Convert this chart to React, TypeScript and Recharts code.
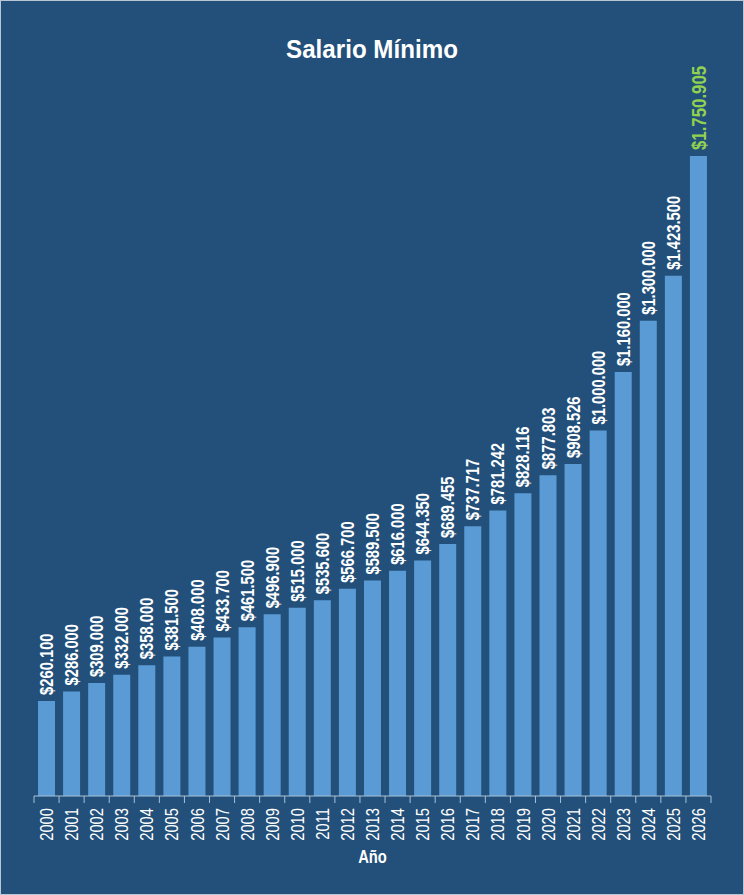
import React from 'react'
import { BarChart, Bar, XAxis, YAxis, LabelList } from 'recharts'

// Salario mínimo por año (COP)
const years = [
  '2000', '2001', '2002', '2003', '2004', '2005', '2006', '2007', '2008',
  '2009', '2010', '2011', '2012', '2013', '2014', '2015', '2016', '2017',
  '2018', '2019', '2020', '2021', '2022', '2023', '2024', '2025', '2026',
]
const salaries = [
  260100, 286000, 309000, 332000, 358000, 381500, 408000, 433700, 461500,
  496900, 515000, 535600, 566700, 589500, 616000, 644350, 689455, 737717,
  781242, 828116, 877803, 908526, 1000000, 1160000, 1300000, 1423500, 1750905,
]

const data = years.map((year, i) => ({ year, value: salaries[i] }))

const BG = '#22507a'
const BAR = '#5b9bd5'
const AXIS = '#a9c1d9'
const GREEN = '#92d050'
const FONT = '"Liberation Sans", Arial, sans-serif'
// no narrow font installed, so squeeze the text along its own direction
const NARROW = 0.82

const W = 742
const H = 893
const MARGIN = { top: 155, right: 32, bottom: 0, left: 33 }
const BAND = (W - MARGIN.left - MARGIN.right) / years.length

function money(v: number): string {
  return '$' + String(v).replace(/\B(?=(\d{3})+(?!\d))/g, '.')
}

function YearTick({ x, y, payload, index }: any) {
  const half = BAND / 2
  return (
    <g>
      <line x1={x - half} x2={x - half} y1={y - 7} y2={y} stroke={AXIS} />
      {index === years.length - 1 && (
        <line x1={x + half} x2={x + half} y1={y - 7} y2={y} stroke={AXIS} />
      )}
      <text
        transform={`translate(${x},${y + 5}) rotate(-90) scale(${NARROW},1)`}
        textAnchor="end"
        dominantBaseline="central"
        fill="#ffffff"
        fontFamily={FONT}
        fontSize={18}
      >
        {payload.value}
      </text>
    </g>
  )
}

function ValueLabel({ x, y, width, value, index }: any) {
  // the latest year is highlighted: green and a little larger
  const last = index === salaries.length - 1
  return (
    <text
      transform={`translate(${x + width / 2},${y - 6}) rotate(-90) scale(${NARROW},1)`}
      textAnchor="start"
      dominantBaseline="central"
      fill={last ? GREEN : '#ffffff'}
      fontFamily={FONT}
      fontWeight="bold"
      fontSize={last ? 20.5 : 18}
    >
      {money(value)}
    </text>
  )
}

function AxisTitle({ viewBox }: any) {
  return (
    <text
      transform={`translate(${viewBox.x + viewBox.width / 2},${viewBox.y + 67}) scale(${NARROW},1)`}
      textAnchor="middle"
      fill="#ffffff"
      fontFamily={FONT}
      fontWeight="bold"
      fontSize={18}
    >
      Año
    </text>
  )
}

export default function App() {
  return (
    <div
      style={{
        position: 'absolute', left: 0, top: 0, width: 744, height: 895,
        boxSizing: 'border-box', border: '1px solid #b9c7d4', background: BG,
      }}
    >
      <svg width={W} height={100} style={{ position: 'absolute', left: 0, top: 0 }}>
        <text
          transform="translate(371,57) scale(0.93,1)"
          textAnchor="middle"
          fill="#ffffff"
          fontFamily={FONT}
          fontWeight="bold"
          fontSize={26}
        >
          Salario Mínimo
        </text>
      </svg>
      <BarChart width={W} height={H} data={data} margin={MARGIN} barCategoryGap="16%">
        <XAxis
          dataKey="year"
          height={98}
          axisLine={{ stroke: AXIS }}
          tickLine={false}
          tickSize={7}
          tickMargin={0}
          interval={0}
          tick={<YearTick />}
          label={<AxisTitle />}
        />
        <YAxis hide domain={[0, 1750905]} />
        <Bar dataKey="value" fill={BAR} isAnimationActive={false}>
          <LabelList dataKey="value" content={<ValueLabel />} />
        </Bar>
      </BarChart>
    </div>
  )
}
